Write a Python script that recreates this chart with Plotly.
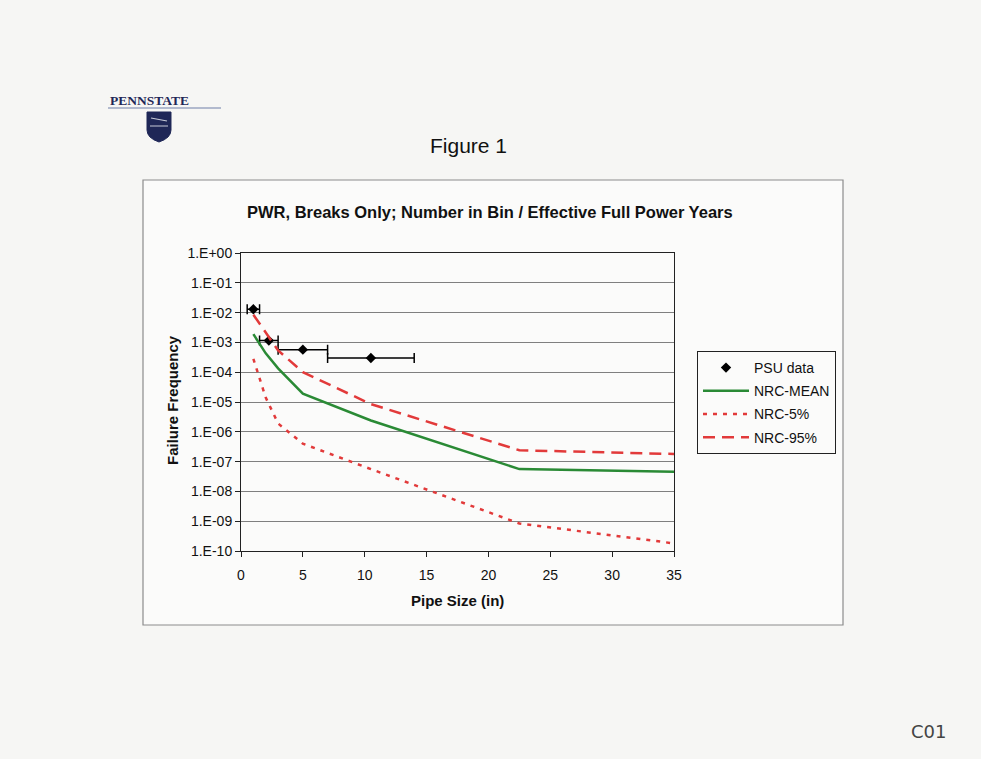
import plotly.graph_objects as go

# PSU data: bin centre, frequency and bin limits (in)
psu_size = [1.0, 2.25, 5.0, 10.5]
psu_freq = [1.3e-2, 1.15e-3, 5.7e-4, 3.0e-4]
psu_bin_lo = [0.5, 1.5, 3.0, 7.0]
psu_bin_hi = [1.5, 3.0, 7.0, 14.0]

# NRC curves
nrc_size = [1, 2, 3, 5, 10.5, 22.5, 35]
nrc_mean = [1.9e-3, 4.3e-4, 1.35e-4, 1.9e-5, 2.4e-6, 5.6e-8, 4.6e-8]
nrc_5 = [2.8e-4, 1.4e-5, 1.9e-6, 4.0e-7, 5.6e-8, 8.4e-10, 1.8e-10]
nrc_95 = [8.5e-3, 2.2e-3, 5.4e-4, 1.0e-4, 8.5e-6, 2.4e-7, 1.8e-7]

y_tickvals = [10.0 ** -k for k in range(0, 11)]
y_ticktext = ['1.E+00', '1.E-01', '1.E-02', '1.E-03', '1.E-04', '1.E-05',
              '1.E-06', '1.E-07', '1.E-08', '1.E-09', '1.E-10']

FONT = 'Liberation Sans, Arial, sans-serif'
NAVY = '#1f2757'
BG = '#f6f6f4'


# pixel -> paper helpers (plot area is 241..674 x 253..551 on the page)
def px(x):
    return (x - 241) / 433.0


def py(y):
    return (551 - y) / 298.0


def label(text, x, y, size, angle=0, family=FONT, color='#111111'):
    return dict(text=text, x=px(x), y=py(y), xref='paper', yref='paper',
                xanchor='center', yanchor='middle', showarrow=False,
                textangle=angle, font=dict(family=family, size=size, color=color))


err_plus = [h - s for h, s in zip(psu_bin_hi, psu_size)]
err_minus = [s - l for s, l in zip(psu_size, psu_bin_lo)]

trace_psu = go.Scatter(x=psu_size, y=psu_freq, mode='markers', name='PSU data',
                       legendgroup='a',
                       marker=dict(symbol='diamond', size=8, color='black'),
                       error_x=dict(type='data', symmetric=False, array=err_plus,
                                    arrayminus=err_minus, color='black',
                                    thickness=1.5, width=5))
trace_mean = go.Scatter(x=nrc_size, y=nrc_mean, mode='lines', name='NRC-MEAN',
                        legendgroup='b',
                        line=dict(color='#2a8a35', width=2.5))
trace_5 = go.Scatter(x=nrc_size, y=nrc_5, mode='lines', name='NRC-5%',
                     legendgroup='c',
                     line=dict(color='#e23a3a', width=2.5, dash='4px,6px'))
trace_95 = go.Scatter(x=nrc_size, y=nrc_95, mode='lines', name='NRC-95%',
                      legendgroup='d',
                      line=dict(color='#e23a3a', width=2.5, dash='12px,7px'))

fig = go.Figure(data=[trace_psu, trace_mean, trace_5, trace_95])

shapes = [
    # chart box
    dict(type='rect', xref='paper', yref='paper', x0=px(143), x1=px(843),
         y0=py(625), y1=py(180), line=dict(color='#8c8c8c', width=1.2),
         fillcolor='#fbfbfa', layer='below'),
    # logo underline
    dict(type='line', xref='paper', yref='paper', x0=px(108), x1=px(221),
         y0=py(108), y1=py(108), line=dict(color='#6f7fa8', width=1)),
    # logo shield
    dict(type='path', xref='paper', yref='paper',
         path='M %f,%f L %f,%f L %f,%f Q %f,%f %f,%f Q %f,%f %f,%f Z' % (
             px(147), py(112), px(171), py(112), px(171), py(130),
             px(171), py(138), px(159), py(142), px(147), py(138),
             px(147), py(130)),
         fillcolor=NAVY, line=dict(color=NAVY, width=1)),
    dict(type='line', xref='paper', yref='paper', x0=px(150), x1=px(168),
         y0=py(126), y1=py(126), line=dict(color='#c8cbd8', width=1)),
    dict(type='line', xref='paper', yref='paper', x0=px(151), x1=px(167),
         y0=py(118), y1=py(121), line=dict(color='#c8cbd8', width=1.2)),
]

annotations = [
    label('<b>PENNSTATE</b>', 149, 100, 13.5, family='Liberation Serif, serif', color=NAVY),
    label('Figure 1', 468, 145, 21),
    label('<b>PWR, Breaks Only; Number in Bin / Effective Full Power Years</b>', 490, 212, 16.5),
    label('<b>Pipe Size (in)</b>', 457, 600, 15),
    label('<b>Failure Frequency</b>', 172, 400, 15, angle=-90),
    label('C01', 928, 731, 18, family='DejaVu Sans, sans-serif', color='#444444'),
]

# the page has an 8px body margin, so the figure is drawn 8px in
fig.update_layout(
    width=973, height=751,
    margin=dict(l=233, r=307, t=245, b=208),
    paper_bgcolor=BG, plot_bgcolor='#fbfbfa',
    font=dict(family=FONT, size=14, color='#111111'),
    showlegend=True,
    legend=dict(x=px(697), y=py(351), xanchor='left', yanchor='top',
                bordercolor='#222222', borderwidth=1, bgcolor='#fbfbfa',
                font=dict(family=FONT, size=14, color='#111111'),
                itemwidth=46, traceorder='grouped', tracegroupgap=2),
    shapes=shapes, annotations=annotations,
    xaxis=dict(range=[0, 35], dtick=5, tick0=0, showgrid=False, zeroline=False,
               showline=True, linecolor='#222222', linewidth=1, mirror=True,
               ticks='outside', ticklen=5, tickcolor='#222222',
               ticklabelstandoff=6, tickfont=dict(size=14)),
    yaxis=dict(type='log', range=[-10, 0], tickvals=y_tickvals, ticktext=y_ticktext,
               showgrid=True, gridcolor='#7f7f7f', gridwidth=1, zeroline=False,
               showline=True, linecolor='#222222', linewidth=1, mirror=True,
               ticks='outside', ticklen=5, tickcolor='#222222',
               tickfont=dict(size=14)),
)

fig.write_html("out.html", post_script="document.body.style.background='%s';" % BG)
